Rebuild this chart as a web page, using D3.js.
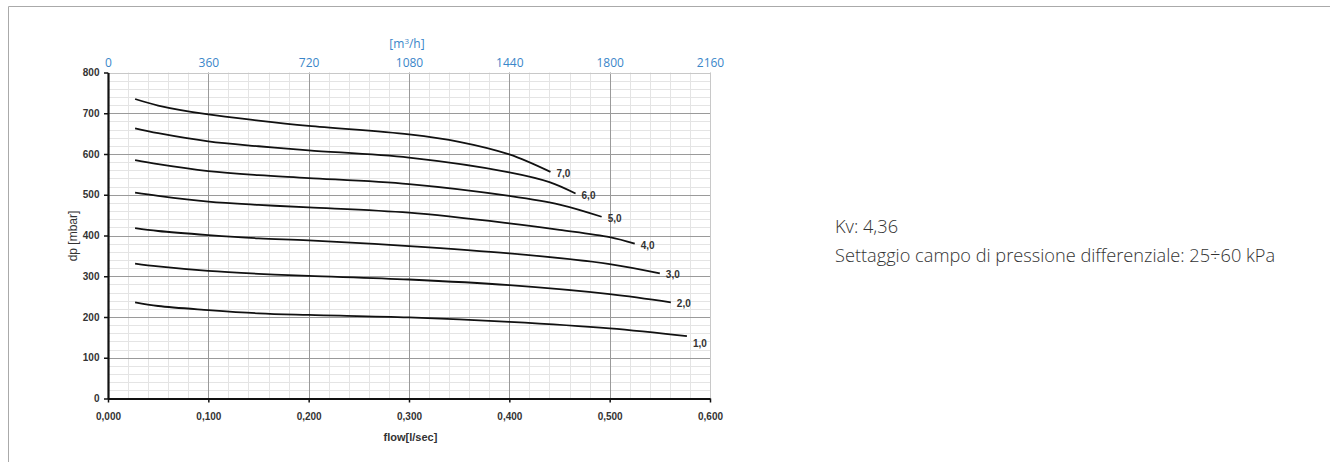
<!DOCTYPE html>
<html><head><meta charset="utf-8">
<script src="https://cdn.jsdelivr.net/npm/d3@7"></script>
<style>
html,body{margin:0;padding:0;background:#fff;}
svg{display:block;}
</style></head>
<body>
<script>
// ---- data ----
const flowTicks = [0, 0.1, 0.2, 0.3, 0.4, 0.5, 0.6];
const dpTicks = [0, 100, 200, 300, 400, 500, 600, 700, 800];
const m3hTicks = [0, 360, 720, 1080, 1440, 1800, 2160];
const settingLabels = ["1,0", "2,0", "3,0", "4,0", "5,0", "6,0", "7,0"];
const curve1 = [[0.027,236],[0.05,227],[0.1,217],[0.15,209],[0.2,205],[0.3,199],[0.4,188],[0.5,172],[0.577,153]];
const curve2 = [[0.027,331],[0.05,324],[0.1,313],[0.15,306],[0.2,301],[0.3,292],[0.4,278],[0.5,256],[0.561,236]];
const curve3 = [[0.027,418],[0.05,411],[0.1,401],[0.15,393],[0.2,388],[0.3,374],[0.4,356],[0.5,330],[0.55,307]];
const curve4 = [[0.027,505],[0.05,497],[0.1,483],[0.15,475],[0.2,469],[0.3,456],[0.4,430],[0.45,414],[0.5,396],[0.525,380]];
const curve5 = [[0.027,585],[0.05,575],[0.1,558],[0.15,548],[0.2,541],[0.3,526],[0.4,497],[0.45,476],[0.492,446]];
const curve6 = [[0.027,663],[0.05,651],[0.1,631],[0.15,619],[0.2,609],[0.3,591],[0.4,555],[0.44,531],[0.466,503]];
const curve7 = [[0.027,735],[0.05,719],[0.1,697],[0.15,682],[0.2,669],[0.3,648],[0.35,630],[0.4,599],[0.441,556]];
const curves = [curve1, curve2, curve3, curve4, curve5, curve6, curve7];
const infoLines = ["Kv: 4,36", "Settaggio campo di pressione differenziale: 25÷60 kPa"];

// ---- layout ----
const W = 1330, H = 462;
const X0 = 108, X1 = 710, Y0 = 398.5, Y1 = 72.5;

const svg = d3.select("body").append("svg").attr("width", W).attr("height", H);

// outer frame (top + left)
svg.append("path").attr("d", `M8.5,${H} V6.5 H${W}`).attr("fill","none").attr("stroke","#aaa").attr("stroke-width",1);

const x = d3.scaleLinear().domain([0, 0.6]).range([X0, X1]);
const xTop = d3.scaleLinear().domain([0, 2160]).range([X0, X1]);
const y = d3.scaleLinear().domain([0, 800]).range([Y0, Y1]);

const g = svg.append("g");

// minor grid
const minorX = d3.range(0, 0.6001, 0.02);
const minorY = d3.range(0, 800.1, 20);
g.append("g").selectAll("line").data(minorX).join("line")
  .attr("x1", d => Math.round(x(d)) + 0.5).attr("x2", d => Math.round(x(d)) + 0.5)
  .attr("y1", Y1).attr("y2", Y0).attr("stroke", "#e4e4e4");
g.append("g").selectAll("line").data(minorY).join("line")
  .attr("y1", d => Math.round(y(d)) + 0.5).attr("y2", d => Math.round(y(d)) + 0.5)
  .attr("x1", X0).attr("x2", X1).attr("stroke", "#e4e4e4");
// major grid
g.append("g").selectAll("line").data(flowTicks).join("line")
  .attr("x1", d => Math.round(x(d)) + 0.5).attr("x2", d => Math.round(x(d)) + 0.5)
  .attr("y1", Y1).attr("y2", Y0).attr("stroke", d => d === 0.6 ? "#c8c8c8" : "#9a9a9a");
g.append("g").selectAll("line").data(dpTicks).join("line")
  .attr("y1", d => Math.round(y(d)) + 0.5).attr("y2", d => Math.round(y(d)) + 0.5)
  .attr("x1", X0).attr("x2", X1).attr("stroke", d => d === 800 ? "#c8c8c8" : "#9a9a9a");

// axes
const fmtFlow = d => d3.format(".3f")(d).replace(".", ",");
const xAxis = d3.axisBottom(x).tickValues(flowTicks).tickFormat(fmtFlow).tickSize(4).tickSizeOuter(0);
const yAxis = d3.axisLeft(y).tickValues(dpTicks).tickSize(4).tickSizeOuter(0);

const gx = svg.append("g").attr("transform", `translate(0,${Y0})`).call(xAxis);
const gy = svg.append("g").attr("transform", `translate(${X0},0)`).call(yAxis);
[gx, gy].forEach(a => {
  a.select(".domain").attr("stroke", "#111").attr("stroke-width", 2.2);
  a.selectAll(".tick line").attr("stroke", "#111").attr("stroke-width", 1.5);
  a.selectAll(".tick text").attr("fill", "#333").attr("font-family", "Liberation Sans, Arial, sans-serif")
    .attr("font-size", 10).attr("font-weight", "bold");
});
gx.selectAll(".tick text").attr("y", 14).attr("dy", "0.71em");
gy.selectAll(".tick text").attr("x", -8.5);

// top axis (m3/h)
const topAxis = d3.axisTop(xTop).tickValues(m3hTicks).tickFormat(d3.format("d")).tickSize(0).tickPadding(0);
const gt = svg.append("g").attr("transform", `translate(0,66.5)`).call(topAxis);
gt.select(".domain").remove();
gt.selectAll(".tick text").attr("fill", "#3a86c9").attr("font-family", "Open Sans, Noto Sans, sans-serif")
  .attr("font-size", 12).attr("dy", 0);

svg.append("text").attr("x", 407).attr("y", 48).attr("text-anchor", "middle")
  .attr("fill", "#3a86c9").attr("font-family", "Open Sans, Noto Sans, sans-serif").attr("font-size", 12)
  .html('[m<tspan dy="-4" font-size="8">3</tspan><tspan dy="4">/h]</tspan>');

// axis titles
svg.append("text").attr("transform", `translate(76.5,236) rotate(-90)`)
  .attr("text-anchor", "middle").attr("fill", "#333")
  .attr("font-family", "Liberation Sans, Arial, sans-serif").attr("font-size", 12).text("dp [mbar]");
svg.append("text").attr("x", 410.5).attr("y", 441).attr("text-anchor", "middle").attr("fill", "#333")
  .attr("font-family", "Liberation Sans, Arial, sans-serif").attr("font-size", 11).attr("font-weight", "bold").text("flow[l/sec]");

// curves
const line = d3.line().x(d => x(d[0])).y(d => y(d[1])).curve(d3.curveCatmullRom.alpha(0.5));
svg.append("g").selectAll("path").data(curves).join("path")
  .attr("d", line).attr("fill", "none").attr("stroke", "#111").attr("stroke-width", 1.8);

// curve labels
svg.append("g").selectAll("text").data(curves).join("text")
  .attr("x", d => x(d[d.length - 1][0]) + 6)
  .attr("y", (d, i) => y(d[d.length - 1][1]) + (i === 0 ? 11 : 5))
  .attr("fill", "#333").attr("font-family", "Liberation Sans, Arial, sans-serif")
  .attr("font-size", 10).attr("font-weight", "bold")
  .text((d, i) => settingLabels[i]);

// info text
svg.append("g").selectAll("text").data(infoLines).join("text")
  .attr("x", 835).attr("y", (d, i) => 232.5 + i * 29)
  .attr("fill", "#333").attr("font-family", "Open Sans, Noto Sans, sans-serif").attr("font-size", 18.2)
  .attr("font-weight", 300)
  .text(d => d);
</script>
</body></html>
